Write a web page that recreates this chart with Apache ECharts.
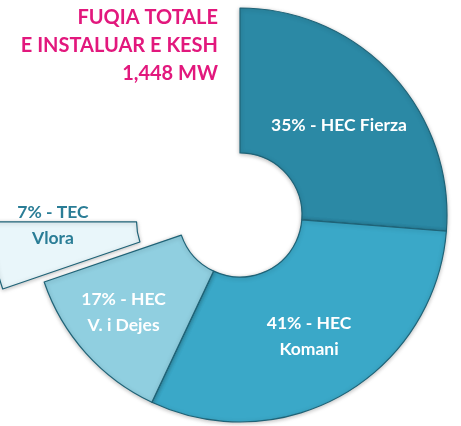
<!DOCTYPE html>
<html>
<head>
<meta charset="utf-8">
<script src="https://cdn.jsdelivr.net/npm/echarts@6/dist/echarts.min.js"></script>
<style>
html,body{margin:0;padding:0;background:#fff;}
#chart{width:461px;height:426px;}
</style>
</head>
<body>
<div id="chart"></div>
<script>
const titleLines = ['FUQIA TOTALE', 'E INSTALUAR E KESH', '1,448 MW'];
const categories = ['HEC Fierza', 'HEC Komani', 'HEC V. i Dejes', 'TEC Vlora'];
const labelTexts = ['35% - HEC Fierza', '41% - HEC\nKomani', '17% - HEC\nV. i Dejes', '7% - TEC\nVlora'];
const values = [35, 41, 17, 7];
const colors = ['#2b89a5', '#3aa8c8', '#90cfe0', '#e9f6fa'];
const labelColors = ['#ffffff', '#ffffff', '#ffffff', '#2a7d96'];
const labelOffsets = [[-2, 4], [0, 2], [-14, 6], [-10, -19]];

const chart = echarts.init(document.getElementById('chart'));
const data = values.map((v, i) => ({
  name: categories[i],
  value: v,
  selected: i === 3,
  itemStyle: { color: colors[i] },
  label: {
    formatter: labelTexts[i],
    color: labelColors[i],
    offset: labelOffsets[i]
  },
  select: {
    itemStyle: { color: colors[i] },
    label: { offset: labelOffsets[i], color: labelColors[i] }
  }
}));

chart.setOption({
  animation: false,
  graphic: [{
    type: 'text',
    x: 218,
    y: 4,
    style: {
      text: titleLines.join('\n'),
      align: 'right',
      verticalAlign: 'top',
      fill: '#e2187d',
      fontFamily: 'Lato',
      fontWeight: 'bold',
      fontSize: 20,
      lineHeight: 28
    }
  }],
  series: [{
    type: 'pie',
    center: [240, 215],
    radius: [62, 207],
    startAngle: 90,
    endAngle: -180,
    clockwise: true,
    selectedMode: 'single',
    selectedOffset: 42,
    avoidLabelOverlap: false,
    itemStyle: {
      borderColor: '#1f6377',
      borderWidth: 1.2,
      shadowBlur: 4,
      shadowColor: 'rgba(0,0,0,0.25)',
      shadowOffsetY: 1
    },
    label: {
      show: true,
      position: 'inside',
      fontFamily: 'Lato',
      fontWeight: 'bold',
      fontSize: 17.5,
      lineHeight: 26,
      align: 'center'
    },
    labelLine: { show: false },
    emphasis: { disabled: true },
    data: data
  }]
});
</script>
</body>
</html>
